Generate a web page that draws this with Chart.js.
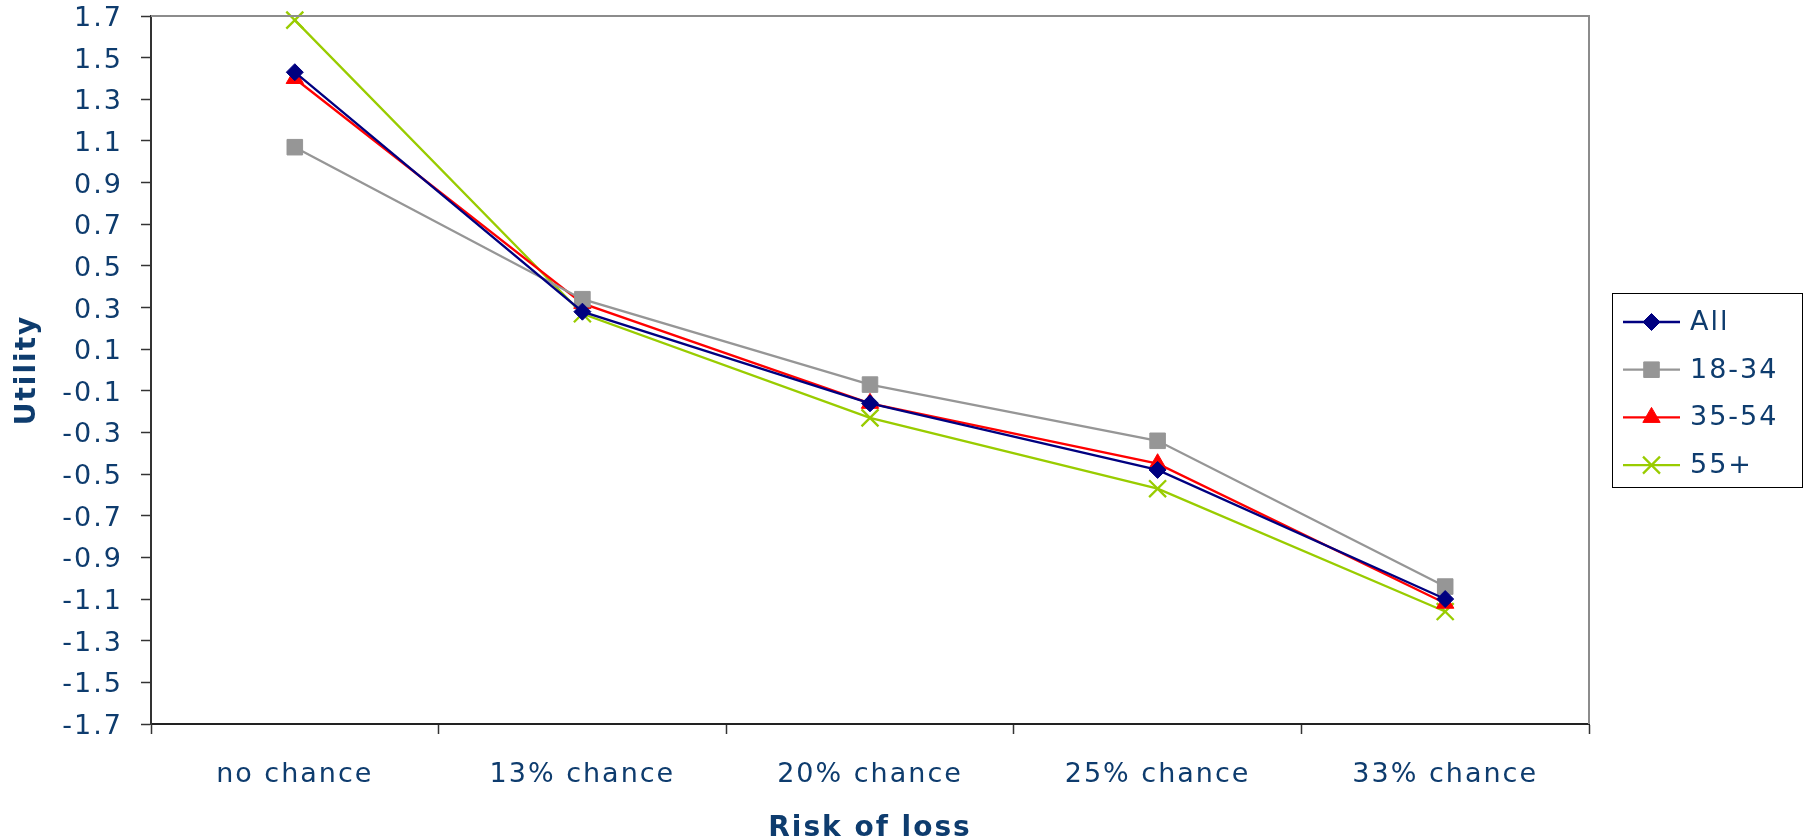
<!DOCTYPE html>
<html>
<head>
<meta charset="utf-8">
<title>Utility by risk of loss</title>
<script src="https://cdn.jsdelivr.net/npm/chart.js@4.4.1/dist/chart.umd.min.js"></script>
<style>
  html, body { margin: 0; padding: 0; background: #ffffff; }
  #wrap { width: 1805px; height: 839px; }
</style>
</head>
<body>
<div id="wrap"><canvas id="chart" width="1805" height="839"></canvas></div>
<script>
// Categories on the x axis
const categories = ['no chance', '13% chance', '20% chance', '25% chance', '33% chance'];

// Utility values per age group
const allAges  = [1.43, 0.28, -0.16, -0.48, -1.10];
const age18_34 = [1.07, 0.34, -0.07, -0.34, -1.04];
const age35_54 = [1.40, 0.32, -0.16, -0.45, -1.12];
const age55up  = [1.68, 0.27, -0.23, -0.57, -1.16];

const seriesNames = ['All', '18-34', '35-54', '55+'];

// Y axis tick values
const yTicks = [1.7, 1.5, 1.3, 1.1, 0.9, 0.7, 0.5, 0.3, 0.1, -0.1, -0.3, -0.5,
                -0.7, -0.9, -1.1, -1.3, -1.5, -1.7];

const TEXT = '#0E3C6E';
const FONT = 'DejaVu Sans';
const SPACING = '2px';

function series(label, data, color, style, radius, bw) {
  return {
    label: label,
    data: data,
    borderColor: color,
    backgroundColor: color,
    borderWidth: 2.3,
    pointStyle: style,
    pointRadius: radius,
    pointHoverRadius: radius,
    pointBorderWidth: bw,
    pointBorderColor: color,
    pointBackgroundColor: color,
    tension: 0,
    clip: false
  };
}

// Wide letter spacing for all text on the canvas
const spacing = {
  id: 'spacing',
  beforeLayout(chart) { chart.ctx.letterSpacing = SPACING; },
  beforeDraw(chart) { chart.ctx.letterSpacing = SPACING; }
};

// Frame: gray top and right edges of the plot area
const frame = {
  id: 'frame',
  afterDatasetsDraw(chart) {
    const { ctx, chartArea: a } = chart;
    ctx.save();
    ctx.strokeStyle = '#8c8c8c';
    ctx.lineWidth = 2;
    ctx.beginPath();
    ctx.moveTo(a.left, a.top);
    ctx.lineTo(a.right, a.top);
    ctx.lineTo(a.right, a.bottom);
    ctx.stroke();
    ctx.restore();
  }
};

// Legend box on the right: line sample with marker, then the label
const sideLegend = {
  id: 'sideLegend',
  afterDraw(chart) {
    const { ctx, chartArea: a } = chart;
    const bx = a.right + 23, by = 293, bw = 190, bh = 194;
    ctx.save();
    ctx.letterSpacing = SPACING;
    ctx.strokeStyle = '#000000';
    ctx.lineWidth = 1;
    ctx.strokeRect(bx + 0.5, by + 0.5, bw, bh);
    chart.data.datasets.forEach((ds, i) => {
      const y = by + 29 + i * 47.7;
      ctx.strokeStyle = ds.borderColor;
      ctx.lineWidth = 2.3;
      ctx.beginPath();
      ctx.moveTo(bx + 11, y);
      ctx.lineTo(bx + 68, y);
      ctx.stroke();
      ctx.fillStyle = ds.backgroundColor;
      ctx.strokeStyle = ds.borderColor;
      ctx.lineWidth = ds.pointBorderWidth;
      Chart.helpers.drawPoint(ctx, {
        pointStyle: ds.pointStyle,
        rotation: 0,
        radius: ds.pointRadius,
        borderWidth: ds.pointBorderWidth
      }, bx + 39.5, y);
      ctx.fillStyle = TEXT;
      ctx.font = '27px "' + FONT + '"';
      ctx.textAlign = 'left';
      ctx.textBaseline = 'middle';
      ctx.fillText(ds.label, bx + 78, y + 1);
    });
    ctx.restore();
  }
};

new Chart(document.getElementById('chart'), {
  type: 'line',
  data: {
    labels: categories,
    datasets: [
      series(seriesNames[0], allAges,  '#000080', 'rectRot',  8.5, 1),
      series(seriesNames[1], age18_34, '#969696', 'rect',     11,  1),
      series(seriesNames[2], age35_54, '#FF0000', 'triangle', 10,  1),
      series(seriesNames[3], age55up,  '#99CC00', 'crossRot', 12,  2.3)
    ]
  },
  options: {
    responsive: false,
    devicePixelRatio: 1,
    animation: false,
    layout: { padding: { top: 16, right: 216, left: 0, bottom: 0 } },
    plugins: {
      legend: { display: false },
      tooltip: { enabled: false }
    },
    scales: {
      x: {
        type: 'category',
        offset: true,
        grid: {
          offset: true,
          drawOnChartArea: false,
          drawTicks: true,
          tickLength: 10,
          tickWidth: 1.5,
          tickColor: '#333333'
        },
        border: { display: true, color: '#222222', width: 2 },
        ticks: {
          color: TEXT,
          font: { family: FONT, size: 27 },
          padding: 25,
          maxRotation: 0,
          autoSkip: false
        },
        title: {
          display: true,
          text: 'Risk of loss',
          color: TEXT,
          font: { family: FONT, size: 28, weight: 'bold', lineHeight: 0.75 },
          padding: { top: 0, bottom: 0 }
        },
        afterFit(scale) {
          scale.height = 115;
          scale.paddingLeft = 0;
          scale.paddingRight = 0;
        }
      },
      y: {
        min: -1.7,
        max: 1.7,
        afterBuildTicks(scale) {
          scale.ticks = yTicks.map(v => ({ value: v }));
        },
        grid: {
          drawOnChartArea: false,
          drawTicks: true,
          tickLength: 10,
          tickWidth: 1.5,
          tickColor: '#333333'
        },
        border: { display: true, color: '#333333', width: 2 },
        ticks: {
          color: TEXT,
          font: { family: FONT, size: 27, lineHeight: 1 },
          padding: 18,
          labelOffset: 3,
          callback: v => v.toFixed(1)
        },
        title: {
          display: true,
          text: 'Utility',
          color: TEXT,
          font: { family: FONT, size: 28, weight: 'bold', lineHeight: 1.2 },
          padding: { top: 11, bottom: 0 }
        },
        afterFit(scale) {
          scale.width = 151;
          scale.paddingTop = 0;
          scale.paddingBottom = 0;
        }
      }
    }
  },
  plugins: [spacing, frame, sideLegend]
});
</script>
</body>
</html>
